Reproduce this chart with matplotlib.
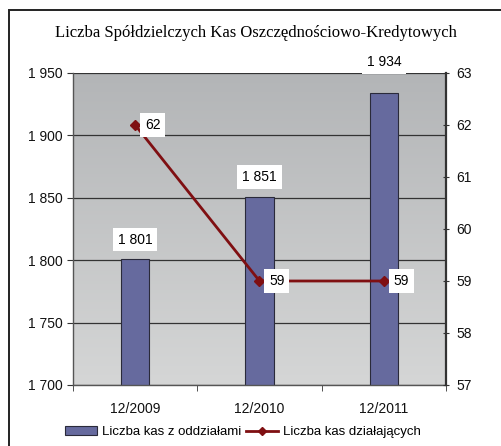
import matplotlib

matplotlib.use("Agg")
import matplotlib.pyplot as plt  # noqa: E402
import numpy as np  # noqa: E402
from matplotlib.colors import LinearSegmentedColormap  # noqa: E402
from matplotlib.lines import Line2D  # noqa: E402
from matplotlib.patches import Patch, Rectangle  # noqa: E402

categories = ["12/2009", "12/2010", "12/2011"]
branches = [1801, 1851, 1934]      # Liczba kas z oddziałami
active = [62, 59, 59]              # Liczba kas działających
left_ticks = [1700, 1750, 1800, 1850, 1900, 1950]
right_ticks = [57, 58, 59, 60, 61, 62, 63]

BAR = "#666a9e"
LINE = "#7f0f12"
SANS = "Liberation Sans"


def fmt(v):
    return f"{v:,}".replace(",", " ")


fig = plt.figure(figsize=(5.01, 4.46), dpi=100)
fig.patch.set_facecolor("white")
# ramka wokół całego wykresu
fig.add_artist(Rectangle((9 / 501, -0.05), 1.2, 1 - 10 / 446 + 0.05,
                         transform=fig.transFigure, fill=False,
                         edgecolor="#222222", linewidth=1.4))

ax = fig.add_axes([73 / 501, 1 - 385 / 446, (446 - 73) / 501, (385 - 73) / 446])
ax.set_xlim(-0.5, 2.5)
ax.set_ylim(1700, 1950)

# tło z gradientem
grad = np.linspace(0, 1, 256).reshape(-1, 1)
cmap = LinearSegmentedColormap.from_list("bg", ["#d5d6d6", "#b3b5b7"])
ax.imshow(grad, extent=(-0.5, 2.5, 1700, 1950), origin="lower", aspect="auto",
          cmap=cmap, zorder=0)

ax.set_yticks(left_ticks)
ax.set_yticklabels([fmt(v) for v in left_ticks])
ax.yaxis.grid(True, color="#333333", linewidth=0.9, zorder=1)
ax.set_axisbelow(True)
x = np.arange(len(categories))
ax.bar(x, branches, width=0.23, color=BAR, edgecolor="#2a2a3a", linewidth=0.8,
       zorder=2)
ax.set_xticks(x)
ax.set_xticklabels(categories)
ax.set_xticks([-0.5, 0.5, 1.5, 2.5], minor=True)
ax.tick_params(axis="x", which="major", length=0, pad=12)
ax.tick_params(axis="x", which="minor", length=4, direction="out", color="#333333")
ax.tick_params(axis="y", length=4, direction="out", color="#333333")
for lab in ax.get_xticklabels() + ax.get_yticklabels():
    lab.set_fontfamily(SANS)
    lab.set_fontsize(10)
    lab.set_color("#111111")
ax.spines["top"].set_visible(False)
ax.spines["right"].set_visible(False)
for side in ["bottom", "left"]:
    ax.spines[side].set_color("#555555")
    ax.spines[side].set_linewidth(1.0)

for i, (xi, v) in enumerate(zip(x, branches)):
    off = 22 if v == max(branches) else 14
    ax.annotate(fmt(v), (xi, v), xytext=(0, off), textcoords="offset points",
                ha="center", va="center", fontsize=10, fontfamily=SANS,
                bbox=dict(boxstyle="square,pad=0.35", fc="white", ec="none"),
                zorder=5, annotation_clip=False)

ax2 = ax.twinx()
ax2.set_ylim(57, 63)
ax2.set_yticks(right_ticks)
ax2.plot(x, active, color=LINE, linewidth=2, marker="D", markersize=5, zorder=4)
for xi, v in zip(x, active):
    ax2.annotate(str(v), (xi, v), xytext=(7, 0), textcoords="offset points",
                 ha="left", va="center", fontsize=10, fontfamily=SANS,
                 bbox=dict(boxstyle="square,pad=0.35", fc="white", ec="none"),
                 zorder=5)
ax2.tick_params(axis="y", length=5, direction="inout", color="#333333", pad=5)
for lab in ax2.get_yticklabels():
    lab.set_fontfamily(SANS)
    lab.set_fontsize(10)
    lab.set_color("#111111")
for side in ["top", "left", "bottom"]:
    ax2.spines[side].set_visible(False)
ax2.spines["right"].set_color("#333333")
ax2.spines["right"].set_linewidth(1.6)

fig.text(0.51, 1 - 33 / 446, "Liczba Spółdzielczych Kas Oszczędnościowo-Kredytowych",
         ha="center", va="center", fontsize=12, fontfamily="Liberation Serif")

handles = [Patch(facecolor=BAR, edgecolor="#2a2a3a", linewidth=0.8),
           Line2D([], [], color=LINE, linewidth=2, marker="D", markersize=4)]
fig.legend(handles, ["Liczba kas z oddziałami", "Liczba kas działających"],
           loc="center", bbox_to_anchor=(0.485, 1 - 432 / 446), ncol=2, frameon=False,
           prop={"family": SANS, "size": 9.5}, handlelength=2.4, handleheight=0.7,
           columnspacing=0.4, handletextpad=0.4, borderaxespad=0)

fig.savefig("out.png", dpi=100)
